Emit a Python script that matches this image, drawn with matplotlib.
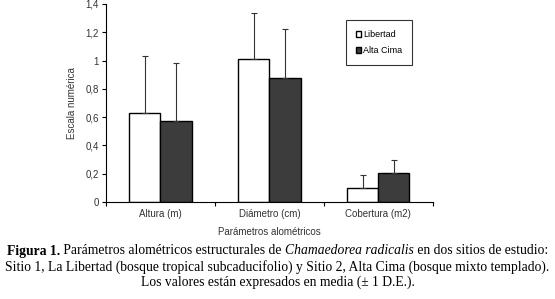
import numpy as np
import matplotlib
matplotlib.use("Agg")
import matplotlib.pyplot as plt

categorias = ["Altura (m)", "Diámetro (cm)", "Cobertura (m2)"]
libertad = [0.63, 1.01, 0.10]
libertad_de = [0.40, 0.325, 0.09]
alta_cima = [0.575, 0.875, 0.205]
alta_cima_de = [0.405, 0.345, 0.095]
yticks = [0, 0.2, 0.4, 0.6, 0.8, 1.0, 1.2, 1.4]
ytick_labels = ["0", "0,2", "0,4", "0,6", "0,8", "1", "1,2", "1,4"]

plt.rcParams['font.family'] = ['Liberation Sans', 'DejaVu Sans']

fig = plt.figure(figsize=(5.55, 2.99), dpi=100)
ax = fig.add_axes([0.191, 0.324, 0.589, 0.663])

x = np.arange(len(categorias))
w = 0.285
ekw = dict(ecolor='#333333', elinewidth=0.8, capsize=2.5, capthick=0.8)
ax.bar(x - w/2, libertad, w, color='white', edgecolor='black', linewidth=1,
       yerr=[np.zeros(3), libertad_de], error_kw=ekw, label='Libertad')
ax.bar(x + w/2, alta_cima, w, color='#3c3c3c', edgecolor='black', linewidth=1,
       yerr=[np.zeros(3), alta_cima_de], error_kw=ekw, label='Alta Cima')

ax.set_xlim(-0.5, 2.5)
ax.set_ylim(0, 1.4)
ax.set_yticks(yticks)
ax.set_yticklabels(ytick_labels, fontsize=7, color='#333333')
ax.set_xticks([-0.5, 0.5, 1.5, 2.5])
ax.set_xticklabels([])
ax.set_xticks(x, minor=True)
ax.set_xticklabels(categorias, minor=True, fontsize=7, color='#333333')
ax.tick_params(axis='x', which='minor', length=0, pad=5)
ax.tick_params(axis='x', which='major', length=3, direction='out')
ax.tick_params(axis='y', length=3, direction='out', pad=2)
ax.spines['top'].set_visible(False)
ax.spines['right'].set_visible(False)
ax.set_ylabel('Escala numérica', fontsize=7, color='#333333', labelpad=6)
ax.set_xlabel('Parámetros alométricos', fontsize=7, color='#333333', labelpad=6)

leg = ax.legend(loc='upper left', bbox_to_anchor=(0.72, 0.94), fontsize=6.5, frameon=True,
                fancybox=False, edgecolor='black', handlelength=0.6, handleheight=0.6,
                handletextpad=0.2, borderpad=1.1, labelspacing=0.8)
leg.get_frame().set_linewidth(0.8)

# caption below the chart
serif = ['Liberation Serif', 'DejaVu Serif']
fs = 9.8
line1 = [("Figura 1.", 'bold', 'normal'),
         (" Parámetros alométricos estructurales de ", 'normal', 'normal'),
         ("Chamaedorea radicalis", 'normal', 'italic'),
         (" en dos sitios de estudio:", 'normal', 'normal')]
fig.canvas.draw()
r = fig.canvas.get_renderer()
widths = []
for s, wt, st in line1:
    t = fig.text(0, 0, s, fontsize=fs, family=serif, weight=wt, style=st)
    widths.append(t.get_window_extent(r).width)
    t.remove()
xpos = (555 - sum(widths)) / 2
for (s, wt, st), wd in zip(line1, widths):
    fig.text(xpos / 555, 1 - 251/299, s, fontsize=fs, family=serif, weight=wt, style=st, va='center')
    xpos += wd
fig.text(0.5, 1 - 267/299,
         "Sitio 1, La Libertad (bosque tropical subcaducifolio) y Sitio 2, Alta Cima (bosque mixto templado).",
         fontsize=fs, family=serif, ha='center', va='center')
fig.text(0.5, 1 - 282/299, "Los valores están expresados en media (± 1 D.E.).",
         fontsize=fs, family=serif, ha='center', va='center')

fig.savefig('out.png', dpi=100)
